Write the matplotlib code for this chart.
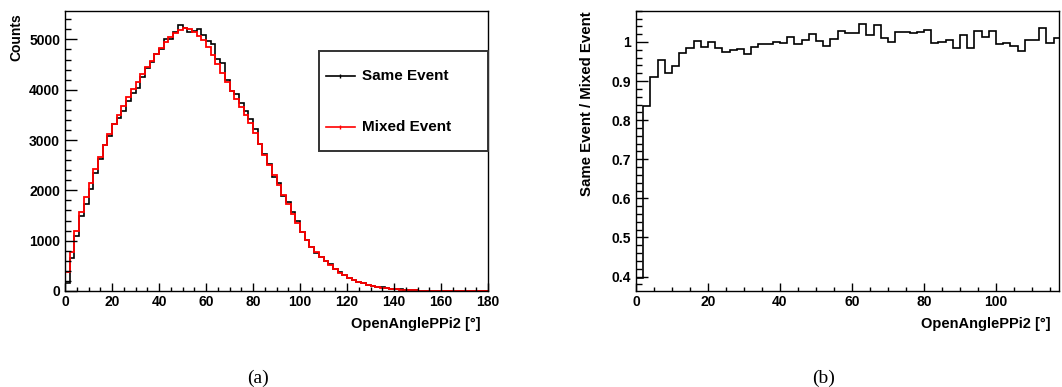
import numpy as np
import matplotlib
matplotlib.use("Agg")
import matplotlib.pyplot as plt
from matplotlib.patches import Rectangle
from matplotlib.ticker import MultipleLocator

plt.rcParams['font.family'] = ['Liberation Sans', 'DejaVu Sans']
plt.rcParams['font.weight'] = 'bold'

# ---- data: opening angle p-pi2, 2-degree bins ----
bin_edges_a = np.arange(0, 182, 2)  # 0..180
mixed_event = [
    380, 780, 1200, 1560, 1870, 2150, 2420, 2670, 2900, 3110,
    3310, 3500, 3680, 3850, 4010, 4160, 4310, 4450, 4580, 4710,
    4830, 4940, 5040, 5120, 5180, 5220, 5200, 5140, 5070, 4980,
    4850, 4690, 4520, 4340, 4150, 3970, 3810, 3650, 3490, 3330,
    3130, 2920, 2710, 2510, 2310, 2110, 1910, 1720, 1540, 1360,
    1170, 1010, 880, 770, 680, 600, 510, 435, 365, 310,
    260, 215, 180, 150, 124, 102, 84, 69, 56, 46,
    37, 29, 22, 16, 12, 8, 6, 4, 3, 2,
    1, 1, 0, 0, 0, 0, 0, 0, 0, 0,
]
same_event = [
    150, 651, 1092, 1488, 1722, 2019, 2350, 2630, 2909, 3073,
    3313, 3444, 3584, 3773, 3942, 4031, 4250, 4432, 4553, 4710,
    4816, 4999, 5010, 5146, 5289, 5236, 5148, 5176, 5212, 5095,
    4962, 4910, 4606, 4527, 4196, 3966, 3905, 3741, 3574, 3417,
    3227, 2914, 2713, 2525, 2273, 2148, 1879, 1770, 1560, 1399,
    1164, 1008, 871, 752, 683, 602, 528, 434, 369, 318,
    255, 222, 178, 152, 120, 101, 84, 70, 56, 48,
    37, 31, 23, 17, 14, 9, 7, 5, 3, 2,
    1, 1, 0, 0, 0, 0, 0, 0, 0, 0,
]

# ratio same / mixed, 2-degree bins from 0 to 118
bin_edges_b = np.arange(0, 120, 2)
ratio = [
    0.395, 0.835, 0.910, 0.954, 0.921, 0.939, 0.971, 0.985, 1.003, 0.988,
    1.001, 0.984, 0.974, 0.980, 0.983, 0.969, 0.986, 0.996, 0.994, 1.000,
    0.997, 1.012, 0.994, 1.005, 1.021, 1.003, 0.990, 1.007, 1.028, 1.023,
    1.023, 1.047, 1.019, 1.043, 1.011, 0.999, 1.025, 1.025, 1.024, 1.026,
    1.031, 0.998, 1.001, 1.006, 0.984, 1.018, 0.984, 1.029, 1.013, 1.029,
    0.995, 0.998, 0.990, 0.977, 1.004, 1.004, 1.036, 0.998, 1.011,
]

W, H = 1062, 387
fig = plt.figure(figsize=(W / 100, H / 100), dpi=100)


def px_rect(x0, y0, x1, y1):
    return [x0 / W, 1 - y1 / H, (x1 - x0) / W, (y1 - y0) / H]


def style_axes(ax, xmaj, xmin, ymaj, ymin):
    ax.xaxis.set_major_locator(MultipleLocator(xmaj))
    ax.xaxis.set_minor_locator(MultipleLocator(xmin))
    ax.yaxis.set_major_locator(MultipleLocator(ymaj))
    ax.yaxis.set_minor_locator(MultipleLocator(ymin))
    ax.tick_params(axis='x', which='major', direction='in', length=5.8, width=1.0,
                   pad=3, labelsize=10)
    ax.tick_params(axis='x', which='minor', direction='in', length=2.9, width=1.0)
    ax.tick_params(axis='y', which='major', direction='in', length=8.6, width=1.0,
                   pad=3.5, labelsize=10)
    ax.tick_params(axis='y', which='minor', direction='in', length=4.3, width=1.0)
    for lab in ax.get_xticklabels() + ax.get_yticklabels():
        lab.set_fontweight('bold')
    for sp in ax.spines.values():
        sp.set_linewidth(1.0)


# ---- (a) counts ----
ax1 = fig.add_axes(px_rect(65, 10.7, 488, 291))
ax1.stairs(same_event, bin_edges_a, color='black', linewidth=1.2)
ax1.stairs(mixed_event, bin_edges_a, color='#ff0000', linewidth=1.3)
ax1.set_xlim(0, 180)
ax1.set_ylim(0, 5570)
style_axes(ax1, 20, 5, 1000, 200)
ax1.yaxis.set_major_formatter(matplotlib.ticker.FuncFormatter(lambda v, p: f"{v:.0f}"))

fig.text(16 / W, 1 - 13 / H, 'Counts', rotation=90, ha='center', va='top',
         fontsize=10, fontweight='bold')
fig.text(481 / W, 1 - 324 / H, 'OpenAnglePPi2 [°]', ha='right', va='center',
         fontsize=10.5, fontweight='bold')

# legend box
ax1.add_patch(Rectangle((0.600, 0.5005), 0.400, 0.3565, transform=ax1.transAxes,
                        facecolor='white', edgecolor='#333333', linewidth=1.4,
                        zorder=5, clip_on=False))
leg_entries = [("Same Event", 'black', 0.767), ("Mixed Event", '#ff0000', 0.586)]
for label, col, yy in leg_entries:
    ax1.plot([0.616, 0.686], [yy, yy], color=col, linewidth=1.2,
             transform=ax1.transAxes, zorder=6, clip_on=False)
    ax1.plot([0.651], [yy], marker='|', markersize=2.5, color=col,
             transform=ax1.transAxes, zorder=6, clip_on=False)
    ax1.text(0.701, yy, label, transform=ax1.transAxes, ha='left', va='center',
             fontsize=11, fontweight='bold', zorder=7)

# ---- (b) ratio ----
ax2 = fig.add_axes(px_rect(636, 10.7, 1059, 291))
ax2.stairs(ratio, bin_edges_b, baseline=None, color='black', linewidth=1.2)
ax2.set_xlim(0, 117.5)
ax2.set_ylim(0.363, 1.080)
style_axes(ax2, 20, 5, 0.1, 0.02)
ax2.yaxis.set_major_formatter(matplotlib.ticker.FuncFormatter(
    lambda v, p: "1" if abs(v - 1) < 1e-6 else f"{v:.1f}"))

fig.text(586.7 / W, 1 - 11.7 / H, 'Same Event / Mixed Event', rotation=90,
         ha='center', va='top', fontsize=10.8, fontweight='bold')
fig.text(1051 / W, 1 - 324 / H, 'OpenAnglePPi2 [°]', ha='right', va='center',
         fontsize=10.5, fontweight='bold')

# captions
fig.text(258 / W, 1 - 378 / H, '(a)', ha='center', va='center', fontsize=14,
         family='Liberation Serif', fontweight='normal')
fig.text(824 / W, 1 - 378 / H, '(b)', ha='center', va='center', fontsize=14,
         family='Liberation Serif', fontweight='normal')

fig.savefig('out.png', dpi=100, facecolor='white')
